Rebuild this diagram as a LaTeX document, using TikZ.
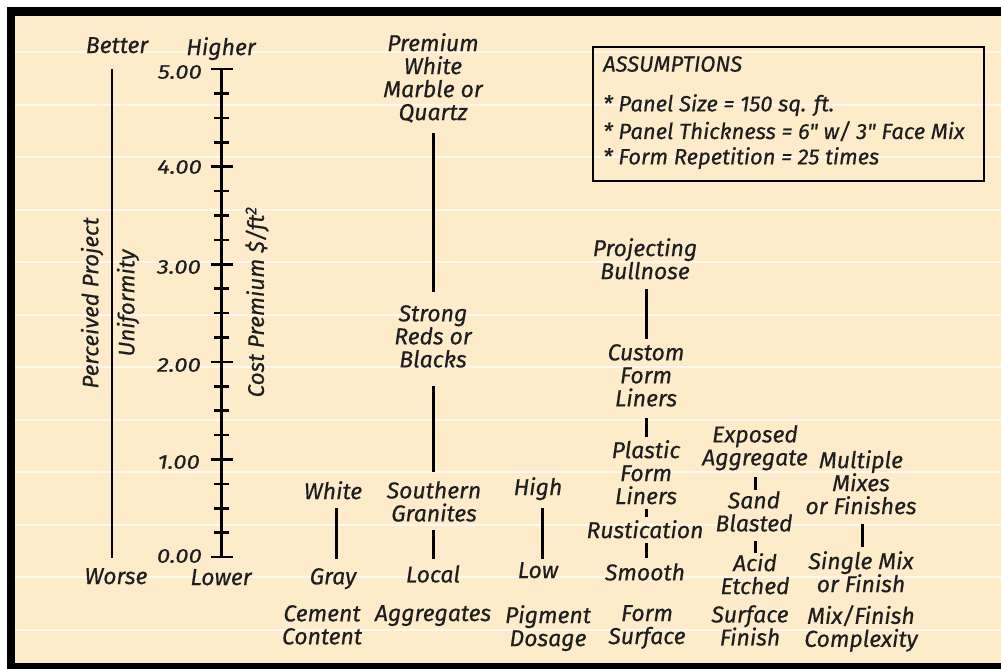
\documentclass[tikz,border=0pt]{standalone}
\usepackage{fontspec}
\setmainfont{Fira Sans}
\newfontfamily\hand{Fira Sans}[FakeBold=0.5]
\newfontfamily\handraw{Fira Sans}[FakeBold=0.5, Ligatures=TeXOff]
\newfontfamily\handnum{Fira Sans}[FakeBold=0.5, FakeStretch=1.2]
\definecolor{cream}{HTML}{FDEBC9}
\definecolor{paper}{HTML}{FFF8EC}
\definecolor{txt}{HTML}{1E1E1E}
\begin{document}
\begin{tikzpicture}[x=1pt,y=-1pt,
  lab/.style={font=\hand\itshape\fontsize{23}{23}\selectfont, align=center, inner sep=0pt, text=txt, anchor=north, yshift=2pt},
  alab/.style={font=\handraw\itshape\fontsize{22}{23}\selectfont, inner sep=0pt, text=txt, anchor=north west, yshift=1pt},
  rlab/.style={font=\hand\itshape\fontsize{22.5}{23}\selectfont, inner sep=0pt, text=txt, rotate=90},
  num/.style={font=\handnum\itshape\fontsize{20}{21}\selectfont, inner sep=0pt, anchor=east, text=txt},
  bar/.style={line width=3pt, draw=black},
  tick/.style={line width=2.6pt, draw=black},
]
\useasboundingbox (0,0) rectangle (1001,669);
\fill[white] (0,0) rectangle (1001,669);
\fill[black] (7,7) rectangle (1001,669);
\fill[cream] (15,16) rectangle (1001,663);
\foreach \k in {0,...,11} {
  \draw[paper, line width=2pt] (15,52+52.5*\k) -- (1001,52+52.5*\k);
}

% Assumptions box
\draw[line width=2.6pt] (593,47) rectangle (984,181);
\node[alab] (asm) at (603,57) {ASSUMPTIONS};
\node[alab] (a1) at (603,95) {* Panel Size = 150 sq. ft.};
\node[alab] (a2) at (603,122) {* Panel Thickness = 6" w/ 3" Face Mix};
\node[alab] (a3) at (603,148) {* Form Repetition = 25 times};

% Left scales
\node[lab] (better) at (117,39) {Better};
\node[lab] (worse) at (116,570) {Worse};
\node[lab] (higher) at (221,39) {Higher};
\node[lab] (lower) at (221,571) {Lower};
\coordinate (pt) at (112,69);
\coordinate (pb) at (112,558);
\draw[line width=2.6pt] (pt) -- (pb);
\node[rlab] (pp) at (92,303) {Perceived Project};
\node[rlab] (unif) at (128,303) {Uniformity};
\node[rlab] (cost) at (257,302) {Cost Premium \$/ft\textsuperscript{2}};

\coordinate (at) at (221,68);
\coordinate (ab) at (221,558);
\draw[bar] (at) -- (ab);
\foreach \v in {0,...,5} {
  \draw[tick] (211,557-97.6*\v) -- (233,557-97.6*\v);
}
\foreach \v in {1,2,3,5,6,7,9,10,11,13,14,15,17,18,19} {
  \draw[tick] (214,557-24.4*\v) -- (229,557-24.4*\v);
}
\node[num] (n5) at (202,72) {5.00};
\node[num] (n4) at (202,167) {4.00};
\node[num] (n3) at (201,267) {3.00};
\node[num] (n2) at (201,365) {2.00};
\node[num] (n1) at (200,462) {1.00};
\node[num] (n0) at (202,556) {0.00};

% Column 1: Cement Content
\node[lab] (white) at (333,483) {White};
\node[lab] (gray) at (333,570) {Gray};
\node[lab] (cement) at (322,607) {Cement\\Content};
\coordinate (c1a) at (336,508);
\coordinate (c1b) at (336,559);
\draw[bar] (c1a) -- (c1b);

% Column 2: Aggregates
\node[lab] (premium) at (433,35) {Premium\\White\\Marble or\\Quartz};
\node[lab] (strong) at (433,307) {Strong\\Reds or\\Blacks};
\node[lab] (southern) at (434,483) {Southern\\Granites};
\node[lab] (local) at (433,567) {Local};
\node[lab] (aggr) at (433,607) {Aggregates};
\coordinate (c2a) at (433,133);
\coordinate (c2b) at (433,292);
\coordinate (c2c) at (433,386);
\coordinate (c2d) at (433,472);
\coordinate (c2e) at (433,530);
\coordinate (c2f) at (433,559);
\draw[bar] (c2a) -- (c2b);
\draw[bar] (c2c) -- (c2d);
\draw[bar] (c2e) -- (c2f);

% Column 3: Pigment Dosage
\node[lab] (high) at (538,479) {High};
\node[lab] (low) at (538,564) {Low};
\node[lab] (pigment) at (548,607) {Pigment\\Dosage};
\coordinate (c3a) at (542,508);
\coordinate (c3b) at (542,559);
\draw[bar] (c3a) -- (c3b);

% Column 4: Form Surface
\node[lab] (proj) at (645,240) {Projecting\\Bullnose};
\node[lab] (custom) at (646,346) {Custom\\Form\\Liners};
\node[lab] (plastic) at (646,442) {Plastic\\Form\\Liners};
\node[lab] (rust) at (645,522) {Rustication};
\node[lab] (smooth) at (645,565) {Smooth};
\node[lab] (formsurf) at (647,607) {Form\\Surface};
\coordinate (c4a) at (646,289);
\coordinate (c4b) at (646,339);
\coordinate (c4c) at (646,418);
\coordinate (c4d) at (646,437);
\coordinate (c4e) at (646,509);
\coordinate (c4f) at (646,517);
\coordinate (c4g) at (646,543);
\coordinate (c4h) at (646,558);
\draw[bar] (c4a) -- (c4b);
\draw[bar] (c4c) -- (c4d);
\draw[bar] (c4e) -- (c4f);
\draw[bar] (c4g) -- (c4h);

% Column 5: Surface Finish
\node[lab] (exposed) at (755,427) {Exposed\\Aggregate};
\node[lab] (sand) at (754,493) {Sand\\Blasted};
\node[lab] (acid) at (755,555) {Acid\\Etched};
\node[lab] (surf) at (750,607) {Surface\\Finish};
\coordinate (c5a) at (755,477);
\coordinate (c5b) at (755,490);
\coordinate (c5c) at (755,541);
\coordinate (c5d) at (755,553);
\draw[bar] (c5a) -- (c5b);
\draw[bar] (c5c) -- (c5d);

% Column 6: Mix/Finish Complexity
\node[lab] (multi) at (861,452) {Multiple\\Mixes\\or Finishes};
\node[lab] (single) at (861,553) {Single Mix\\or Finish};
\node[lab] (mixfin) at (861,607) {Mix/Finish\\Complexity};
\coordinate (c6a) at (862,524);
\coordinate (c6b) at (862,547);
\draw[bar] (c6a) -- (c6b);
\end{tikzpicture}
\end{document}
